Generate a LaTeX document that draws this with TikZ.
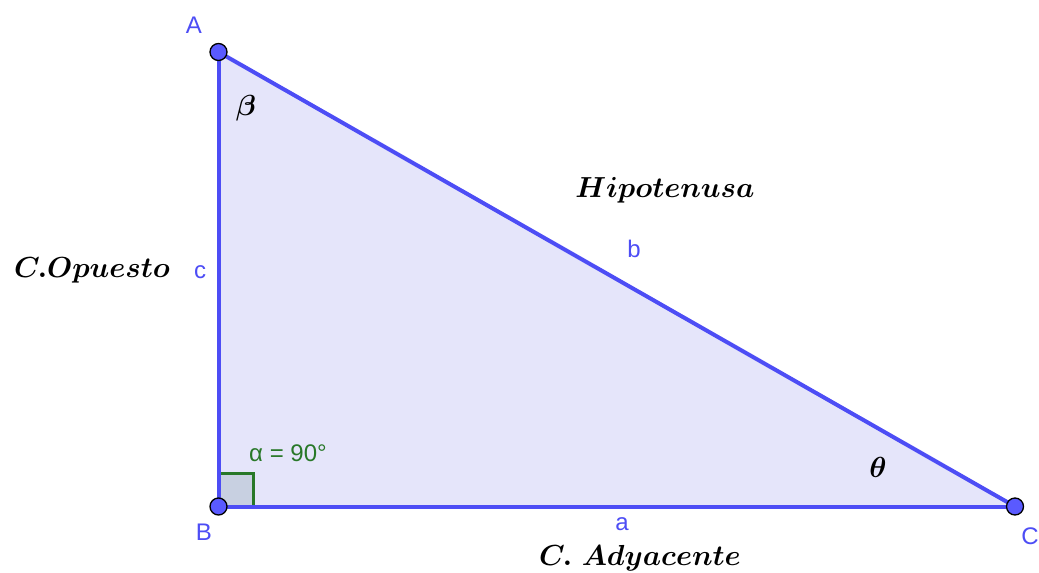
\documentclass[tikz,border=0pt]{standalone}
\usepackage{amsmath,bm}
\usepackage{fontspec}
\newfontfamily\lsans{Liberation Sans}
\definecolor{edge}{RGB}{77,77,245}
\definecolor{tri}{RGB}{229,229,250}
\definecolor{ptfill}{RGB}{90,90,255}
\definecolor{angg}{RGB}{40,120,40}
\definecolor{sqfill}{RGB}{200,208,225}
\begin{document}
\begin{tikzpicture}[x=1pt,y=-1pt,
  pt/.style={circle,draw=black,fill=ptfill,line width=1.3pt,minimum size=17pt,inner sep=0pt},
  vlab/.style={text=edge,font=\lsans\fontsize{24}{26}\selectfont,inner sep=0pt},
  mlab/.style={text=black,font=\fontsize{10}{12}\selectfont,scale=2.9,inner sep=0pt},
  side/.style={draw=edge,line width=4pt}]
\useasboundingbox (0,0) rectangle (1039,573);
\coordinate (A) at (218.5,52);
\coordinate (B) at (218.5,506.5);
\coordinate (C) at (1015,506.5);
\fill[tri] (A) -- (B) -- (C) -- cycle;
\coordinate (q1) at (253,506.5);
\coordinate (q2) at (253,473);
\coordinate (q3) at (218.5,473);
\filldraw[fill=sqfill,draw=angg,line width=3pt] (B) -- (q1) -- (q2) -- (q3) -- cycle;
\draw[side] (A) -- (B);
\draw[side] (B) -- (C);
\draw[side] (C) -- (A);
\node[pt] (pA) at (A) {};
\node[pt] (pB) at (B) {};
\node[pt] (pC) at (C) {};
\node[vlab] (lA) at (194,25) {A};
\node[vlab] (lB) at (204,532) {B};
\node[vlab] (lC) at (1030,536) {C};
\node[vlab] (lc) at (200,272) {c};
\node[vlab] (lb) at (634,249) {b};
\node[vlab] (la) at (622,524) {a};
\node[vlab,text=angg] (alpha) at (288,453) {α = 90°};
\node[mlab] (beta) at (246,108) {$\bm{\beta}$};
\node[mlab] (theta) at (878,467) {$\bm{\theta}$};
\node[mlab] (op) at (92,270) {$\bm{C.Opuesto}$};
\node[mlab] (hip) at (665,190) {$\bm{Hipotenusa}$};
\node[mlab] (ady) at (640,558) {$\bm{C.\ Adyacente}$};
\end{tikzpicture}
\end{document}
